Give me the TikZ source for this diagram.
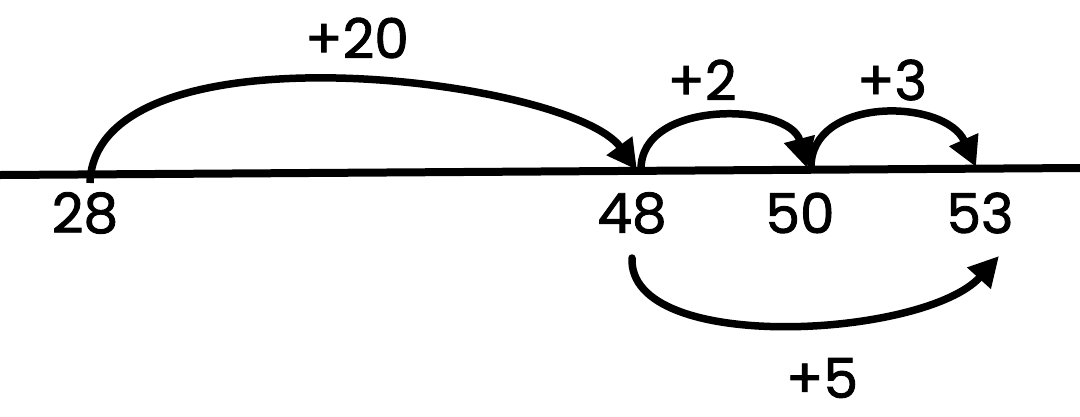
\documentclass[tikz,border=0pt]{standalone}
\usepackage{fontspec}
\setmainfont{Poppins}
\newfontfamily\numfont{Poppins}[FakeBold=1.6]
\usetikzlibrary{arrows.meta}
\begin{document}
\begin{tikzpicture}[x=1pt,y=-1pt,
  jump/.style={line width=7.5pt,-{Triangle[length=30pt,width=30pt]}},
  num/.style={font=\fontsize{55}{55}\numfont,inner sep=0pt,anchor=center}]
\useasboundingbox (0,0) rectangle (1080,416);
% number line
\coordinate (L) at (0,175);
\coordinate (R) at (1080,168);
\draw[line width=8pt] (L) -- (R);
% points
\coordinate (p28) at (90,183);
\coordinate (p48) at (637,170);
\coordinate (q48) at (641,170);
\coordinate (p50) at (807,168);
\coordinate (q50) at (811,168);
\coordinate (p53) at (976,167);
\coordinate (b48) at (632,258);
\coordinate (b53) at (999,256);
% labels
\node[num] (t28) at (85,213) {28};
\node[num] (t48) at (632,213) {48};
\node[num] (t50) at (800,213) {50};
\node[num] (t53) at (980,213) {53};
\node[num] (j20) at (357,38) {+20};
\node[num] (j2) at (702,80) {+2};
\node[num] (j3) at (892,80) {+3};
\node[num] (j5) at (822,378) {+5};
% jumps
\draw[jump,line cap=butt] (p28) .. controls (95,20) and (570,78) .. (p48);
\draw[jump] (q48) .. controls (640,98) and (790,103) .. (p50);
\draw[jump] (q50) .. controls (810,96) and (945,98) .. (p53);
\draw[jump,line cap=round] (b48) .. controls (628,355) and (925,338) .. (b53);
\end{tikzpicture}
\end{document}
